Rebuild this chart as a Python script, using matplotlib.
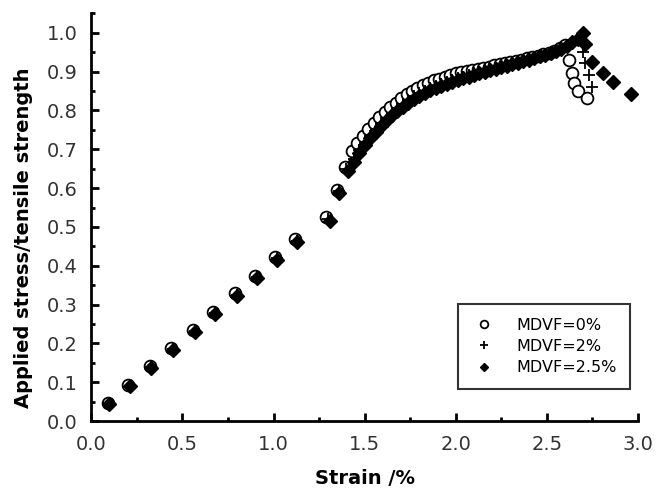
import matplotlib.pyplot as plt
from matplotlib.ticker import MultipleLocator

plt.rcParams['font.family'] = ['DejaVu Sans']

# MDVF = 0 %  (open circles)
x0 = [0.09, 0.20, 0.32, 0.44, 0.56, 0.67, 0.79, 0.90, 1.01, 1.12, 1.29, 1.35, 1.39,
      1.43, 1.46, 1.49, 1.52, 1.55, 1.58, 1.61, 1.64, 1.67, 1.70, 1.73, 1.76, 1.79,
      1.82, 1.85, 1.88, 1.91, 1.94, 1.97, 2.00, 2.03, 2.06, 2.09, 2.12, 2.15, 2.18,
      2.21, 2.24, 2.27, 2.30, 2.33, 2.36, 2.39, 2.42, 2.45, 2.48, 2.51, 2.54, 2.57,
      2.60, 2.62, 2.64, 2.65, 2.67, 2.72]
y0 = [0.048, 0.093, 0.142, 0.188, 0.234, 0.281, 0.329, 0.374, 0.423, 0.469, 0.525, 0.595, 0.655,
      0.695, 0.715, 0.735, 0.752, 0.767, 0.782, 0.796, 0.808, 0.820, 0.831, 0.841, 0.850, 0.858,
      0.865, 0.871, 0.877, 0.882, 0.887, 0.891, 0.895, 0.898, 0.901, 0.904, 0.907, 0.910, 0.913,
      0.916, 0.919, 0.922, 0.925, 0.928, 0.931, 0.934, 0.937, 0.940, 0.944, 0.948, 0.953, 0.960,
      0.968, 0.930, 0.895, 0.870, 0.850, 0.832]

# MDVF = 2 %  (plus)
x2 = [0.10, 0.21, 0.33, 0.45, 0.57, 0.68, 0.80, 0.91, 1.02, 1.13, 1.30, 1.36, 1.40,
      1.44, 1.47, 1.50, 1.53, 1.56, 1.59, 1.62, 1.65, 1.68, 1.71, 1.74, 1.77, 1.80,
      1.83, 1.86, 1.89, 1.92, 1.95, 1.98, 2.01, 2.04, 2.07, 2.10, 2.13, 2.16, 2.19,
      2.22, 2.25, 2.28, 2.31, 2.34, 2.37, 2.40, 2.43, 2.46, 2.49, 2.52, 2.55, 2.58,
      2.61, 2.64, 2.67, 2.70, 2.71, 2.73, 2.75]
y2 = [0.046, 0.091, 0.140, 0.185, 0.231, 0.278, 0.325, 0.371, 0.419, 0.465, 0.520, 0.592, 0.650,
      0.675, 0.697, 0.717, 0.735, 0.752, 0.767, 0.781, 0.794, 0.806, 0.817, 0.827, 0.836, 0.844,
      0.851, 0.858, 0.864, 0.869, 0.874, 0.879, 0.883, 0.887, 0.891, 0.895, 0.899, 0.903, 0.906,
      0.910, 0.914, 0.918, 0.922, 0.926, 0.930, 0.934, 0.938, 0.942, 0.946, 0.950, 0.955, 0.961,
      0.968, 0.977, 0.986, 0.950, 0.923, 0.890, 0.860]

# MDVF = 2.5 %  (filled)
x25 = [0.10, 0.21, 0.33, 0.45, 0.57, 0.68, 0.80, 0.91, 1.02, 1.13, 1.31, 1.36, 1.41,
       1.44, 1.47, 1.50, 1.53, 1.56, 1.59, 1.62, 1.65, 1.68, 1.71, 1.74, 1.77, 1.80,
       1.83, 1.86, 1.89, 1.92, 1.95, 1.98, 2.01, 2.04, 2.07, 2.10, 2.13, 2.16, 2.19,
       2.22, 2.25, 2.28, 2.31, 2.34, 2.37, 2.40, 2.43, 2.46, 2.49, 2.52, 2.55, 2.58,
       2.61, 2.64, 2.67, 2.70, 2.71, 2.75, 2.81, 2.86, 2.96]
y25 = [0.045, 0.090, 0.138, 0.183, 0.229, 0.276, 0.322, 0.368, 0.416, 0.462, 0.515, 0.588, 0.645,
       0.668, 0.690, 0.710, 0.728, 0.745, 0.760, 0.774, 0.787, 0.799, 0.810, 0.820, 0.829, 0.837,
       0.845, 0.852, 0.858, 0.864, 0.869, 0.874, 0.879, 0.883, 0.887, 0.891, 0.895, 0.899, 0.903,
       0.907, 0.911, 0.915, 0.919, 0.923, 0.927, 0.931, 0.935, 0.939, 0.943, 0.948, 0.953, 0.959,
       0.966, 0.975, 0.985, 1.000, 0.970, 0.925, 0.897, 0.874, 0.843]

labels = ['MDVF=0%', 'MDVF=2%', 'MDVF=2.5%']

fig = plt.figure(figsize=(6.66, 4.92), dpi=100)
ax = fig.add_axes([0.137, 0.144, 0.821, 0.829])

ax.plot(x0, y0, 'o', mfc='white', mec='black', mew=1.3, ms=8.5, label=labels[0])
ax.plot(x2, y2, '+', color='black', mew=1.3, ms=8, label=labels[1])
ax.plot(x25, y25, 'D', color='black', ms=7, label=labels[2])

ax.set_xlim(0, 3.0)
ax.set_ylim(0, 1.05)
ax.xaxis.set_major_locator(MultipleLocator(0.5))
ax.xaxis.set_minor_locator(MultipleLocator(0.25))
ax.yaxis.set_major_locator(MultipleLocator(0.1))
ax.yaxis.set_minor_locator(MultipleLocator(0.05))
ax.set_xticklabels([f'{v:.1f}' for v in ax.get_xticks()])
ax.set_yticklabels([f'{v:.1f}' for v in ax.get_yticks()])

for s in ['top', 'right']:
    ax.spines[s].set_visible(False)
for s in ['left', 'bottom']:
    ax.spines[s].set_linewidth(2)
ax.tick_params(which='major', direction='in', length=6, width=2, labelsize=14,
               labelcolor='#333333')
ax.tick_params(axis='x', which='major', pad=10)
ax.tick_params(axis='y', which='major', pad=10)
ax.tick_params(which='minor', direction='in', length=3, width=2)

ax.set_xlabel('Strain /%', fontsize=14, fontweight='bold', labelpad=11)
ax.set_ylabel('Applied stress/tensile strength', fontsize=14, fontweight='bold')
ax.yaxis.set_label_coords(-0.106, 0.45)

leg = ax.legend(loc='upper left', bbox_to_anchor=(0.671, 0.287), borderaxespad=0,
                fontsize=11.5, fancybox=False, edgecolor='black', handlelength=1.5,
                handletextpad=1.3, markerscale=0.65, borderpad=0.85, labelspacing=0.4)
leg.get_frame().set_linewidth(1.5)

fig.savefig('out.png', dpi=100)
